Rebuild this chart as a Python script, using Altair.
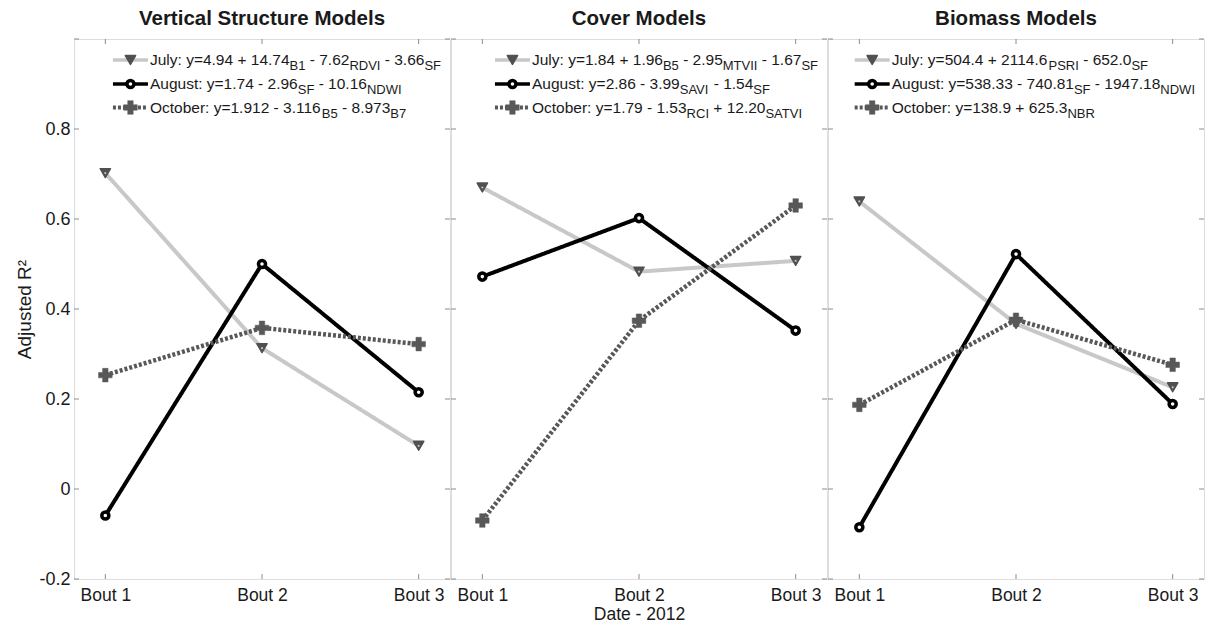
import altair as alt
import pandas as pd

# ---------------- data ----------------
bouts = [1, 2, 3]
y_ticks = [-0.2, 0, 0.2, 0.4, 0.6, 0.8, 1.0]
y_label_values = [-0.2, 0, 0.2, 0.4, 0.6, 0.8]
panel_titles = ["Vertical Structure Models", "Cover Models", "Biomass Models"]
series_names = ["July", "August", "October"]

vs_july = [0.702, 0.313, 0.096]
vs_aug = [-0.059, 0.500, 0.215]
vs_oct = [0.253, 0.358, 0.322]

cov_july = [0.670, 0.483, 0.507]
cov_aug = [0.472, 0.602, 0.352]
cov_oct = [-0.070, 0.374, 0.630]

bio_july = [0.639, 0.367, 0.226]
bio_aug = [-0.085, 0.522, 0.189]
bio_oct = [0.187, 0.376, 0.276]

# legend equations: (text, is_subscript)
leg_vs = [
    [("July: y=4.94 + 14.74", 0), ("B1", 1), (" - 7.62", 0), ("RDVI", 1), (" - 3.66", 0), ("SF", 1)],
    [("August: y=1.74 - 2.96", 0), ("SF", 1), (" - 10.16", 0), ("NDWI", 1)],
    [("October: y=1.912 - 3.116", 0), ("B5", 1), (" - 8.973", 0), ("B7", 1)],
]
leg_cov = [
    [("July: y=1.84 + 1.96", 0), ("B5", 1), (" - 2.95", 0), ("MTVII", 1), (" - 1.67", 0), ("SF", 1)],
    [("August: y=2.86 - 3.99", 0), ("SAVI", 1), (" - 1.54", 0), ("SF", 1)],
    [("October: y=1.79 - 1.53", 0), ("RCI", 1), (" + 12.20", 0), ("SATVI", 1)],
]
leg_bio = [
    [("July: y=504.4 + 2114.6", 0), ("PSRI", 1), (" - 652.0", 0), ("SF", 1)],
    [("August: y=538.33 - 740.81", 0), ("SF", 1), (" - 1947.18", 0), ("NDWI", 1)],
    [("October: y=138.9 + 625.3", 0), ("NBR", 1)],
]

# ---------------- style ----------------
FONT = "Liberation Sans"
FRAME = "#8c8c8c"
TXT = "#1a1a1a"
W, H = 376, 540
MAIN_FS, SUB_FS = 15.5, 13

STYLE = {
    "July": dict(line="#c8c8c8", width=4, dash=[1, 0], shape="triangle-down",
                 fill="#505050", stroke="#505050", sw=1.5, size=105),
    "August": dict(line="#000000", width=4, dash=[1, 0], shape="circle",
                   fill="#ffffff", stroke="#000000", sw=3.5, size=50),
    "October": dict(line="#585858", width=4.5, dash=[3, 2], shape="cross",
                    fill="#585858", stroke="#585858", sw=0.5, size=185),
}

CW = {' ': 278, '.': 278, ':': 278, '+': 584, '-': 333, '=': 584,
      'J': 500, 'A': 667, 'O': 778, 'B': 667, 'R': 722, 'D': 722, 'V': 667, 'I': 278,
      'S': 667, 'F': 611, 'N': 722, 'W': 944, 'M': 833, 'T': 611, 'C': 722, 'P': 667,
      'L': 556, 'u': 556, 'l': 222, 'y': 500, 'g': 556, 's': 500, 't': 278, 'c': 500,
      'o': 556, 'b': 556, 'e': 556, 'r': 333}
for d in "0123456789":
    CW[d] = 556


def tw(s, fs):
    return sum(CW.get(c, 556) for c in s) / 1000.0 * fs


xscale = alt.Scale(domain=[0.8, 3.2], nice=False, zero=False)
yscale = alt.Scale(domain=[-0.2, 1.0], nice=False, zero=False)


def make_panel(i, vals, legend_rows):
    show_y = i == 0
    xaxis = alt.Axis(values=bouts, labelExpr="'Bout ' + datum.value", ticks=False, domain=False,
                     grid=False, labelFontSize=17.5, labelFont=FONT, labelColor=TXT,
                     labelPadding=7, title=("Date - 2012" if i == 1 else None), titleFont=FONT,
                     titleFontSize=17.5, titleFontWeight="normal", titleColor=TXT,
                     titlePadding=2)
    if show_y:
        yaxis = alt.Axis(values=y_label_values, labelExpr="datum.value + ''", ticks=False,
                         domain=False, grid=False, labelFontSize=18, labelFont=FONT,
                         labelColor=TXT, labelPadding=4, title="Adjusted R²",
                         titleFont=FONT, titleFontSize=19, titleFontWeight="normal",
                         titleColor=TXT, titlePadding=4)
    else:
        yaxis = None
    X = alt.X("bout:Q", scale=xscale, axis=xaxis)
    Y = alt.Y("value:Q", scale=yscale, axis=yaxis)

    layers = []
    # inward ticks on all four sides (MATLAB box style)
    yt = pd.DataFrame({"value": y_ticks})
    xt = pd.DataFrame({"bout": bouts})
    layers.append(alt.Chart(yt).mark_rule(color=FRAME, strokeWidth=1).encode(
        y=Y, x=alt.value(0), x2=alt.value(5)))
    layers.append(alt.Chart(yt).mark_rule(color=FRAME, strokeWidth=1).encode(
        y=Y, x=alt.value(W - 5), x2=alt.value(W)))
    layers.append(alt.Chart(xt).mark_rule(color=FRAME, strokeWidth=1).encode(
        x=X, y=alt.value(H - 5), y2=alt.value(H)))
    layers.append(alt.Chart(xt).mark_rule(color=FRAME, strokeWidth=1).encode(
        x=X, y=alt.value(0), y2=alt.value(5)))

    # data lines + markers
    for name, v in zip(series_names, vals):
        st = STYLE[name]
        df = pd.DataFrame({"bout": bouts, "value": v})
        base = alt.Chart(df)
        layers.append(base.mark_line(color=st["line"], strokeWidth=st["width"],
                                     strokeDash=st["dash"]).encode(x=X, y=Y))
        layers.append(base.mark_point(shape=st["shape"], filled=True, fill=st["fill"],
                                      stroke=st["stroke"], strokeWidth=st["sw"], size=st["size"],
                                      strokeJoin="round", opacity=1).encode(x=X, y=Y))
        if name == "July":
            layers.append(base.mark_point(shape="circle", filled=True, fill="#c0c0c0",
                                          size=5, opacity=1).encode(x=X, y=Y))

    # custom legend with subscripts (spaces turned into x offsets, since SVG drops them)
    widths = [sum(tw(t, SUB_FS if s else MAIN_FS) for t, s in row) for row in legend_rows]
    text_x0 = 367 - max(widths)
    sym_x1 = text_x0 - 2
    sym_x0 = sym_x1 - 35
    row_y = [21, 45, 68.5]
    segs = []
    for r, row in enumerate(legend_rows):
        x = text_x0
        for t, s in row:
            fs = SUB_FS if s else MAIN_FS
            lead = len(t) - len(t.lstrip(" "))
            body = t.strip(" ")
            segs.append({"px": x + tw(" " * lead, fs), "py": row_y[r] + (6 if s else 0),
                         "text": body, "fs": fs})
            x += tw(t, fs)
    segdf = pd.DataFrame(segs)
    layers.append(alt.Chart(segdf).mark_text(align="left", baseline="middle", font=FONT,
                                             color=TXT).encode(
        x=alt.X("px:Q", scale=None, axis=None),
        y=alt.Y("py:Q", scale=None, axis=None),
        text="text:N",
        size=alt.Size("fs:Q", scale=None, legend=None)))
    for r, name in enumerate(series_names):
        st = STYLE[name]
        one = pd.DataFrame({"k": [0]})
        layers.append(alt.Chart(one).mark_rule(color=st["line"], strokeWidth=st["width"] - 0.5,
                                               strokeDash=st["dash"]).encode(
            x=alt.value(sym_x0), x2=alt.value(sym_x1), y=alt.value(row_y[r])))
        layers.append(alt.Chart(one).mark_point(shape=st["shape"], filled=True, fill=st["fill"],
                                                stroke=st["stroke"], strokeWidth=st["sw"],
                                                size=st["size"], strokeJoin="round",
                                                opacity=1).encode(
            x=alt.value((sym_x0 + sym_x1) / 2), y=alt.value(row_y[r])))

    return alt.layer(*layers).properties(
        width=W, height=H,
        title=alt.TitleParams(panel_titles[i], font=FONT, fontSize=20.5, fontWeight="bold",
                              color=TXT, offset=9, anchor="middle"))


p1 = make_panel(0, [vs_july, vs_aug, vs_oct], leg_vs)
p2 = make_panel(1, [cov_july, cov_aug, cov_oct], leg_cov)
p3 = make_panel(2, [bio_july, bio_aug, bio_oct], leg_bio)

chart = alt.hconcat(p1, p2, p3, spacing=-1).properties(
    padding={"left": 15, "top": 8, "right": 0, "bottom": 0}
).configure_view(stroke=FRAME, strokeWidth=1).configure(background="white")

chart.save("out.html", embed_options={"renderer": "svg", "actions": False})
